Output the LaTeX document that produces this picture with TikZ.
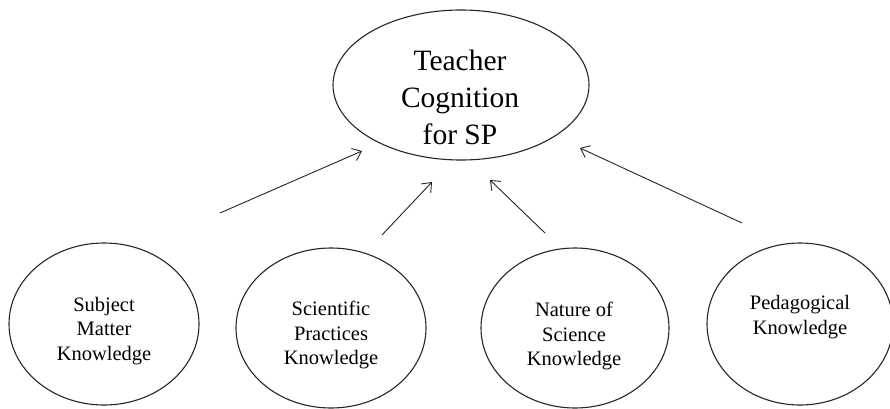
\documentclass[tikz,border=0pt]{standalone}
\usepackage{fontspec}
\setmainfont{Liberation Serif}
\usetikzlibrary{shapes.geometric,arrows.meta}
\tikzset{
  bubble/.style={draw=black!85, line width=1.1pt, ellipse, inner sep=0pt},
  bigtext/.style={align=center, inner sep=0pt, font=\fontsize{29.5}{37}\selectfont},
  smalltext/.style={align=center, inner sep=0pt, font=\fontsize{20.5}{24.5}\selectfont},
  link/.style={draw=black!85, line width=0.9pt, -{Straight Barb[length=8pt,width=13pt,line width=0.9pt]}}
}
\begin{document}
\begin{tikzpicture}[x=1pt,y=1pt]
\clip (0,0) rectangle (890,408);
\fill[white] (0,0) rectangle (890,408);
% ellipses
\node[bubble, minimum width=256pt, minimum height=150pt] (top) at (461,323) {};
\node[bubble, minimum width=190pt, minimum height=162pt] (smk) at (104,84) {};
\node[bubble, minimum width=190pt, minimum height=160pt] (spk) at (331,80) {};
\node[bubble, minimum width=188pt, minimum height=160pt] (nsk) at (575,80) {};
\node[bubble, minimum width=186pt, minimum height=162pt] (pk) at (800,84) {};
% texts
\node[bigtext] (toptxt) at (460,311) {Teacher\\Cognition\\for SP};
\node[smalltext] (smktxt) at (104,77) {Subject\\Matter\\Knowledge};
\node[smalltext] (spktxt) at (331,73) {Scientific\\Practices\\Knowledge};
\node[smalltext] (nsktxt) at (574,72) {Nature of\\Science\\Knowledge};
\node[smalltext] (pktxt) at (800,91) {Pedagogical\\Knowledge};
% arrow endpoints
\coordinate (a1s) at (220,195); \coordinate (a1e) at (362,257);
\coordinate (a2s) at (382,173); \coordinate (a2e) at (432,226);
\coordinate (a3s) at (545,175); \coordinate (a3e) at (490,228);
\coordinate (a4s) at (742,185); \coordinate (a4e) at (580,260);
\draw[link] (a1s) -- (a1e);
\draw[link] (a2s) -- (a2e);
\draw[link] (a3s) -- (a3e);
\draw[link] (a4s) -- (a4e);
\end{tikzpicture}
\end{document}
